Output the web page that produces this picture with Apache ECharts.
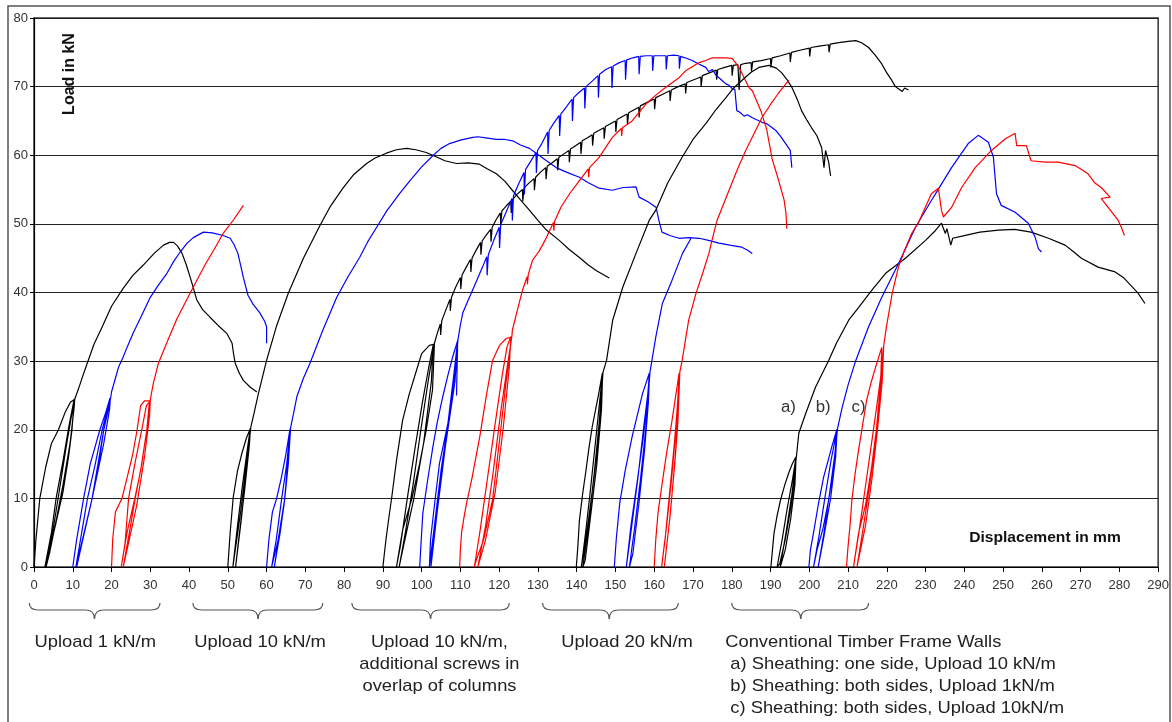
<!DOCTYPE html>
<html>
<head>
<meta charset="utf-8">
<script src="https://cdn.jsdelivr.net/npm/echarts@6/dist/echarts.min.js"></script>
<style>
html, body { margin: 0; padding: 0; background: #fff; }
#chart { width: 1172px; height: 722px; }
</style>
</head>
<body>
<div id="chart"></div>
<script>
// displacement (mm), load (kN)

// Upload 1 kN/m
const black1 = [[0,0],[0.5,4],[1.5,10],[3,14.5],[4.5,18],[6.3,20],[8,22.5],[9.4,24],[10.4,24.4],
  [10.3,24],[9.8,20],[8.9,16],[7.5,11],[5.5,6],[4,2.5],[2.8,0],
  [4.5,5],[5.7,10],[7.5,15.5],[9,20.5],[10.2,24],[10.5,24.5],
  [10.4,23.5],[9.3,18],[7.5,12],[5.8,7],[4,2],[3.1,0],
  [4.8,5],[6.5,11],[8.3,17.5],[9.8,22.5],[10.6,24.6],
  [11.5,26],[12.5,27.7],[13.8,29.8],[15.5,32.5],[17.6,35],[20,38],[23,40.6],[25.5,42.5],[28.2,44],
  [31,45.7],[33.4,46.9],[35,47.3],[36,47.3],[37,46.8],[38.2,45.7],[39.3,44],[40.3,42.2],[41.2,40.5],
  [42,38.9],[43.5,37.5],[45.4,36.4],[47.5,35.2],[49.8,34],[51.1,32.6],[51.5,31],[51.9,29.7],[53,28.2],
  [54,27.2],[55.8,26.2],[57.5,25.5]];
const blue1 = [[10,0],[11,4],[12.8,10],[14.5,15],[17,20],[18.5,22.5],[19.6,24.6],
  [19.4,23.5],[18,20],[16.5,15],[15,10],[12.5,4],[10.8,0],
  [12.3,5],[13.8,10],[15.8,15],[17.6,20],[19.7,24.6],
  [19.5,23],[18,18],[15,10],[12.2,3],[11,0],
  [13,5],[15,10],[16.7,15],[18,20],[19.8,24.7],
  [20,25.5],[21,27.5],[21.8,29.1],[23,30.6],[24,32],[25.5,34],[27.4,36.2],[30,39.3],[32,41],[34.3,42.8],
  [36,44.5],[37.7,45.9],[39.5,47.2],[41.1,48],[43.7,48.8],[46,48.7],[48.8,48.3],[50.6,47.9],[51.6,47],
  [52.6,45.7],[53.3,44],[54,42.2],[55.2,39.6],[56.5,38.3],[58.3,37],[59.5,35.8],[60,35],[60,32.6]];
const red1 = [[20,0],[20.3,4],[21,8],[22.7,10],[24,13],[25.5,16.5],[26.6,20],[27.5,23.5],[28.5,24.2],[29.8,24.2],
  [29.6,23],[29.1,20],[27.5,14],[26,10],[24,5],[22.5,0],
  [23.5,3.5],[24.4,10],[26,15],[27.8,20],[29,23.5],[30,24.2],
  [29.8,22],[28.5,16],[26.5,9],[24.2,3],[23,0],
  [24.6,5],[26.1,10],[27.8,15],[29.1,20],[30,24.3],
  [30.2,25],[30.8,26.8],[32.1,29.7],[34.5,33],[36.9,36.2],[39,38.5],[41.1,40.8],[44.1,44],[46.5,46.3],
  [48.8,48.6],[51.5,50.6],[54,52.7]];

// Upload 10 kN/m
const black2 = [[50,0],[50.6,5],[51.4,10.2],[52.5,14],[53.6,16.5],[54.8,18.8],[55.7,20],
  [55.6,19],[54.8,15],[53.3,8],[51.8,2],[51.3,0],
  [52.5,6],[53.8,12],[55,17],[55.8,20.2],
  [55.6,18],[54.3,11],[52.8,4],[52,0],
  [53.5,7],[55,15],[55.9,20.3],
  [56.8,22.5],[57.9,25.3],[60,30.1],[62.5,35],[65.6,39.9],[69.5,45],[73.8,49.8],[76.5,52.6],[79.7,55.2],
  [82.5,57.2],[85.8,58.8],[88,59.6],[90.9,60.3],[93.5,60.8],[96.1,61],[98.5,60.8],[101.2,60.4],[104,59.7],
  [106,59.2],[109,58.8],[112,58.9],[114.9,58.7],[117,58],[119.3,57.3],[121.5,56.2],[123.4,54.9],[125.5,53.5],
  [127.8,52],[130,50.5],[132.2,49.1],[135.5,47.6],[138,46.3],[140.7,45.1],[143,44],[145,43.2],[148.4,42.1]];
const blue2 = [[60,0],[60.6,4],[61.5,8],[62.6,10],[63.8,13],[65,16.5],[66,20],
  [65.8,18],[64.7,10],[63,4],[61.3,0],
  [62.5,4],[63.9,10],[65.2,15],[66.1,20.2],
  [65.8,17],[64.5,9],[62.8,3],[62,0],
  [63.5,5],[64.7,10],[65.6,15],[66.2,20.3],
  [67,22.5],[67.8,24.8],[69.5,27.5],[71.2,29.7],[74.5,34.5],[78.1,39.3],[81,42.3],[84,45.1],[86,47.3],
  [88.4,49.5],[91,51.9],[94.3,54.4],[97,56.3],[100,58.3],[103,60],[105,61],[107.2,61.7],[110,62.2],
  [113.2,62.6],[114.5,62.7],[117,62.5],[119.3,62.3],[121.5,62.3],[123.5,62.1],[125.5,61.5],[127.8,61],
  [130,60.1],[132.2,59.2],[134.7,58.2],[137.5,57.5],[140.7,56.8],[143,56],[145.8,55.2],[149.2,54.9],
  [152,55.3],[155.3,55.4],[156.1,53.9],[158.5,53.2],[160.5,52.4],[161.2,50.5],[162,48.8],[164,48.3],
  [166.4,47.9],[169,48],[171.6,47.9],[174,47.6],[176.7,47.2],[179.5,46.9],[182.6,46.6],[184,46.2],[185.3,45.7]];

// Upload 10 kN/m, additional screws in overlap of columns
const black3 = [[90,0],[90.8,4],[91.5,7],[92.3,10.2],[93.5,15.5],[95.1,21.4],[96.8,25.2],[98.7,28.7],[100,31.1],[102,32.3],[103.3,32.5],
  [102.8,25.8],[101.2,20],[99.5,15.1],[97.5,10],[95.1,5.4],[93.5,0],
  [94.5,3],[96.3,10],[98.2,17],[100.2,24],[101.8,29],[103,32.4],
  [102.5,27],[100.5,18],[98,10],[95.5,3.5],[94.2,0],
  [95.8,5],[97.8,12],[99.8,20],[101.8,27.5],[103.3,32.6],
  [104,34],[104.8,35.4],[104.9,33.8],[105.2,35.9],[106.2,37.4],[107.3,39],[107.4,37.3],[107.7,39.3],[108.8,40.8],
  [110,42.2],[110.1,40.5],[110.4,42.5],[111.5,43.7],[112.6,44.8],[112.7,43],[113,45],[114,46.1],[115.2,47.3],
  [115.3,45.5],[115.6,47.5],[116.7,48.4],[117.8,49.2],[117.9,47.4],[118.2,49.5],[119.2,50.6],[120.3,51.6],
  [120.4,49.8],[120.7,51.9],[121.8,52.6],[123,53.3],[123.1,51.6],[123.4,53.5],[124.6,54.3],[126,55],
  [126.1,53.3],[126.4,55.2],[127.6,55.9],[129,56.6],[129.1,54.9],[129.4,56.8],[130.6,57.5],[132,58.2],
  [132.1,56.5],[132.4,58.4],[133.7,58.9],[135,59.5],[135.1,57.8],[135.4,59.7],[136.7,60.2],[138,60.7],
  [138.1,59],[138.4,60.9],[139.7,61.4],[141,61.9],[141.1,60.2],[141.4,62.1],[142.7,62.5],[144,63],
  [144.1,61.4],[144.4,63.2],[145.7,63.6],[147,64],[147.1,62.4],[147.4,64.2],[148.7,64.6],[150,65],
  [150.1,63.4],[150.4,65.2],[151.7,65.6],[153,66],[153.1,64.5],[153.4,66.2],[154.7,66.6],[156,67],
  [156.1,65.5],[156.4,67.2],[158.2,67.7],[160,68.2],[160.1,66.7],[160.4,68.4],[162.2,68.9],[164,69.4],
  [164.1,67.9],[164.4,69.5],[166.2,70],[168,70.4],[168.1,69],[168.4,70.6],[170.2,71],[172,71.4],
  [172.1,70],[172.4,71.6],[174.2,72],[176,72.4],[176.1,71],[176.4,72.5],[178.2,72.8],[180,73.1],
  [180.1,71.6],[180.4,73.1],[181.6,73.2],[181.9,69.5],[182.3,73.2],[183.6,73.4],[185,73.5],[185.1,72.2],
  [185.4,73.6],[187.6,73.8],[190,74.1],[190.1,72.8],[190.4,74.2],[192.6,74.5],[195,74.9],[195.1,73.6],
  [195.4,75],[197.6,75.3],[200,75.6],[200.1,74.4],[200.4,75.7],[202.6,75.9],[205,76.1],[205.1,75],
  [205.4,76.2],[207.6,76.4],[210,76.6],[212,76.7],[213.5,76.4],[215.3,75.7],[217,74.6],[218.7,73.3],
  [220,72],[221.3,70.9],[222.2,70],[223,69.7],[224,69.3],[224.6,69.8],[225.6,69.5]];
const blue3 = [[99.5,0],[99.9,4],[100.3,7.8],[101.5,12.5],[102.9,17.5],[104,21],[105.4,24.7],[106.8,28],[108,30.6],[109.3,33],
  [109,25],[109.2,31],[109.3,33],
  [108.5,28],[106.8,21],[104.6,15.1],[103.3,9],[102.3,4],[102,0],
  [103.5,7],[105,14],[106.8,21],[108.3,28],[109.3,33],
  [108.6,27],[106.5,19],[104.4,11],[102.9,4],[102.4,0],
  [104,8],[106,17],[108,26],[109.4,33.2],
  [110,35.3],[110.6,37],[111.8,38.6],[113.1,40.3],[114.4,42],[115.7,43.7],[116.8,45.2],[116.9,42.5],
  [117.2,45.5],[118.6,47.6],[120,49.5],[120.1,46.5],[120.4,49.9],[122,52],[123.3,53.7],[123.4,50.5],
  [123.7,54.1],[125,55.8],[126.4,57.5],[126.5,54.3],[126.8,57.9],[128,59],[129.5,60.4],[129.6,57.4],
  [129.9,60.7],[131,61.7],[132.5,63.4],[132.6,60.2],[132.9,63.6],[134,64.6],[135.5,65.8],[135.6,62.8],
  [135.9,66],[137.3,67],[138.8,68.2],[138.9,65],[139.2,68.4],[140.5,69.1],[142,69.8],[142.1,66.8],
  [142.4,70],[144,70.8],[145.5,71.6],[145.6,68.4],[145.9,71.8],[147.5,72.5],[149,72.9],[149.1,69.8],
  [149.4,73],[151,73.5],[152.5,73.8],[152.6,71],[152.9,73.9],[154.5,74.2],[156,74.4],[156.1,71.8],
  [156.4,74.4],[158,74.5],[159.5,74.5],[159.6,72.3],[159.9,74.5],[161.5,74.5],[163,74.5],[163.1,72.5],
  [163.4,74.5],[165,74.6],[166.4,74.5],[166.5,72.6],[166.8,74.4],[168.5,74.1],[169.8,73.8],[171.5,73.3],
  [173.3,72.8],[174,72.2],[175,72.5],[176,71.6],[176.7,71.3],[177.5,70.9],[178.5,70.4],[179.3,70.2],
  [180.1,69.7],[180.8,69.6],[181.3,66.5],[182,66.3],[183.2,65.7],[184,65.9],[185.2,65.5],[186.3,65.2],
  [187.8,64.8],[189,64.6],[190,64.2],[191.4,63.6],[192.8,62.6],[193.9,61.7],[195.1,60.7],[195.5,58.2]];
const red3 = [[109.8,0],[110,2.5],[110.3,5],[111,7.5],[111.6,9.3],[113,13],[115,19],[116.7,25],[118.3,30.1],[120.1,32.3],[121.8,33.3],[123.2,33.5],
  [122.5,30],[121.8,27],[120,18],[118.3,9.8],[116,4],[114.1,1],[113.6,0],
  [115,5],[117,13],[119,21],[120.8,28],[122,32],[123,33.6],
  [122.6,29],[121,20],[119,11],[116.5,4],[114.5,0],
  [116.5,6],[118.5,14],[120.5,23],[122.3,30],[123.3,33.7],
  [123.4,34.5],[124.5,37],[126,40.3],[127.2,42.3],[127.3,41.2],[127.5,42.6],[128.6,44.7],[130.4,46.1],
  [132.2,48],[134,50.2],[134.1,49],[134.3,50.4],[136,52.5],[138.3,54.5],[140.7,56.3],[143,58],[143.1,56.8],
  [143.3,58.2],[145.8,59.7],[149.2,62.6],[151.5,63.9],[151.6,62.8],[151.8,64],[154.3,65],[157.9,67.5],
  [160.5,68.8],[163,69.9],[166.4,71.3],[168.1,72.3],[171.6,73.5],[173.3,73.8],[175,74.2],[178.5,74.2],
  [180.1,74.1],[181.9,72.8],[182.6,72],[184.4,69.9],[185.3,69.4],[187.5,66.5],[189,63.8],[190.4,59.5],
  [192,56.5],[193.5,53.5],[194,51.5],[194.2,49.3]];

// Upload 20 kN/m
const black4 = [[139.9,0],[140.3,3],[140.7,6.8],[141.5,10.5],[142.4,14.1],[143.2,17.5],[144,20.4],[145,23.3],[145.7,25.3],[146.6,28.2],
  [146.3,24],[145.5,18],[144,11],[142.5,4.5],[141.2,0],
  [142.3,5],[143.5,11],[144.8,18],[145.9,24],[146.7,28.3],
  [146.4,23],[145.2,15],[143.5,7],[142.2,1],[141.6,0],
  [143,6],[144.6,14],[145.8,21],[146.8,28.4],
  [147.7,30.1],[149.3,36],[151.9,40.8],[155.3,45.7],[158.7,50.5],[160.4,52],[163.5,56],[167.2,59.7],
  [170,62.3],[173.3,64.6],[176,66.7],[178.5,68.4],[180.5,69.8],[182.6,70.9],[185,72.1],[187,72.8],
  [189.6,73.1],[191.5,72.7],[192.9,72],[194.3,71],[195.5,69.9],[197,68],[198,66.5],[199.5,65],
  [200.6,64],[202,62.8],[203.2,61.1],[203.8,58.2],[204.2,60.7],[204.6,60.9],[205,59],[205.5,57]];
const blue4 = [[149.7,0],[150.2,4],[151.1,9.3],[152.5,14],[154.3,19],[155.8,22.5],[157,25.3],[158.7,28.2],
  [158.4,25],[157.2,19],[155.5,12],[154,6],[152.8,0],
  [154.2,6],[155.8,13],[157.2,20],[158.3,25],[158.8,28.3],
  [158.5,24],[157.5,17],[156,9],[154.5,2],[153.6,0],
  [155,6],[156.5,13],[157.8,20],[158.9,28.4],
  [160.4,33.5],[162.1,38.4],[164.6,41.8],[167.3,45.7],[169.5,47.9]];
const red4 = [[160,0],[160.4,4],[161,8],[162,12],[163.3,17],[164.5,21],[165.5,24.8],[166.4,28.2],
  [166.2,25],[165.2,18],[164,11],[162.8,4],[161.9,0],
  [163.2,6],[164.5,13],[165.6,20],[166.5,28.3],
  [166.3,24],[165.4,16],[164.2,8],[162.6,0],
  [164,7],[165.3,15],[166.1,21],[166.6,28.4],
  [167.2,30.1],[168.9,36],[170.8,39.9],[172.5,42.8],[174.1,45.7],[174.9,47.6],[176.2,50.5],[179.3,54.9],
  [181.5,58],[183.6,60.7],[185.8,63.2],[187.8,65.5],[190,67.4],[192,69],[194.7,70.9]];

// Conventional timber frame walls a), b), c)
const black5 = [[190.1,0],[190.5,2.5],[190.9,4.9],[191.7,7.5],[192.6,9.8],[193.7,12],[194.7,13.7],[195.6,15],[196.5,16],
  [196.2,13],[195.2,8.5],[193.8,4],[192.4,0.5],[191.7,0],
  [193,4],[194.3,8.5],[195.6,12.5],[196.6,16.1],
  [196.3,12],[195.2,7],[193.8,2.5],[192.5,0],
  [194,5],[195.5,10.5],[196.7,16.2],
  [197.3,19.5],[199.1,22.4],[201.6,26.2],[205,30.1],[207,32.6],[210.2,36],[212.7,37.8],[216.1,40.3],
  [219.7,42.8],[224.8,45],[230,47.6],[232.5,49],[234.1,50.1],[234.6,50.3],[235.1,48.6],[235.5,49.3],
  [236.5,46.9],[237,47.9],[240,48.3],[244,48.8],[248.8,49.1],[253,49.2],[257.2,48.8],[261.7,47.9],
  [266,46.9],[268,46],[270.2,45],[274.5,43.7],[278.9,43],[281,42.2],[283,41],[284.8,39.9],[286.6,38.4]];
const blue5 = [[199.9,0],[200.3,2.5],[201.1,5],[202.3,9],[203.7,13.1],[205,15.8],[205.8,17.5],[207.1,20],
  [206.7,17],[205.8,12.5],[205,9.8],[203.5,5.5],[202,2.5],[201.1,0],
  [202.5,4.5],[204,10],[205.6,15.5],[207.2,20.1],
  [206.8,16],[205.5,10],[203.8,4.5],[202.3,0],
  [203.8,5],[205.3,11],[206.5,16],[207.3,20.2],
  [208.5,23.3],[210,26.5],[212,30.1],[215.3,35],[218.7,39.3],[223,44.2],[227.4,49.5],[231.5,53.4],
  [232.6,54.4],[236.7,58.2],[241,61.7],[243.6,62.9],[246.2,61.9],[247.5,59.7],[247.9,57],[248.3,54.4],
  [249.5,52.7],[253.1,51.7],[256.5,50.1],[258.3,48],[259.1,46.4],[259.9,45.9]];
const red5 = [[209.6,0],[210,3],[210.5,6],[211,9.8],[211.8,13.5],[212.7,17],[213.7,20.5],[214.8,24.3],[216,27],[217.1,29.1],[218.7,32],
  [218.4,26.8],[217.3,20],[216.1,14.6],[214.5,9],[212.7,4.9],[211.4,0],
  [212.8,5],[214.3,11],[215.8,17],[217.3,23],[218.5,28],[219.2,32.2],
  [218.8,27],[217.6,20],[216.2,13],[214.5,6],[212.3,0],
  [214,6],[215.6,12],[217,18],[218.3,25],[219.2,32.3],
  [219.9,35],[221.4,39.9],[223,43.7],[224.5,46],[226.4,48.6],[228.1,50.1],[231.5,54.4],[233.3,55.2],
  [234.1,52],[234.6,51],[236.7,52.4],[239.3,55.3],[242.8,58.2],[247,60.7],[250.6,62.4],[253.1,63.2],
  [253.5,61.4],[256,61.4],[257.2,59.2],[260.9,59],[264.2,59],[268.6,58.5],[271.9,57.3],[273.6,56],
  [275.3,55.3],[277.6,53.9],[275.3,53.7],[277.1,52.4],[279.7,50.5],[280.5,49.5],[281.3,48.3]];

// braces under the x axis: start, end, tip (mm)
const braceRanges = [[-1.2, 32.5, 15.6], [41, 74.5, 57.8], [82, 122.6, 102.3], [131.2, 166.2, 148.4], [180, 215.3, 197.8]];

// group captions: x position (mm), alignment, lines
const captions = [
  { x: 15.8, align: 'center', lines: ['Upload 1 kN/m'] },
  { x: 58.3, align: 'center', lines: ['Upload 10 kN/m'] },
  { x: 104.6, align: 'center', lines: ['Upload 10 kN/m,', 'additional screws in', 'overlap of columns'] },
  { x: 153, align: 'center', lines: ['Upload 20 kN/m'] },
  { x: 178.3, align: 'left', lines: ['Conventional Timber Frame Walls', ' a) Sheathing: one side, Upload 10 kN/m',
      ' b) Sheathing: both sides, Upload 1kN/m', ' c) Sheathing: both sides, Upload 10kN/m'] }
];

// curve tags a) b) c) inside the plot
const curveTags = [['a)', 194.6, 23.2], ['b)', 203.6, 23.2], ['c)', 212.7, 23.2]];

const curves = [
  [black1, '#000000'], [blue1, '#0000ff'], [red1, '#ff0000'],
  [black2, '#000000'], [blue2, '#0000ff'],
  [black3, '#000000'], [blue3, '#0000ff'], [red3, '#ff0000'],
  [black4, '#000000'], [blue4, '#0000ff'], [red4, '#ff0000'],
  [black5, '#000000'], [blue5, '#0000ff'], [red5, '#ff0000']
];

const FONT = '"Liberation Sans", Arial, sans-serif';
const chart = echarts.init(document.getElementById('chart'));

chart.setOption({
  animation: false,
  backgroundColor: '#fff',
  grid: { left: 34, right: 12, top: 18, bottom: 155, show: true, borderColor: '#333', borderWidth: 1.5 },
  xAxis: {
    type: 'value', min: 0, max: 290, interval: 10,
    axisLine: { lineStyle: { color: '#000', width: 1.2 } },
    axisTick: { show: true, length: 5, lineStyle: { color: '#000' } },
    axisLabel: { margin: 12, fontSize: 13, color: '#333', fontFamily: FONT },
    splitLine: { show: false }
  },
  yAxis: {
    type: 'value', min: 0, max: 80, interval: 10,
    axisLine: { show: true, lineStyle: { color: '#000', width: 1.2 } },
    axisTick: { show: true, length: 4, lineStyle: { color: '#000' } },
    axisLabel: { margin: 6, fontSize: 13, color: '#333', fontFamily: FONT },
    splitLine: { show: true, lineStyle: { color: '#222', width: 1 } }
  },
  series: curves.map(function (c) {
    return {
      type: 'line',
      data: c[0],
      showSymbol: false,
      symbol: 'none',
      silent: true,
      lineStyle: { color: c[1], width: 1.2 }
    };
  })
});

// annotations placed through the axis scales
const graphics = [];
graphics.push({
  type: 'rect', shape: { x: 8, y: 6, width: 1162, height: 740 },
  style: { fill: null, stroke: '#555', lineWidth: 1.5 }, silent: true
});
graphics.push({
  type: 'text', x: 70, y: 74, rotation: Math.PI / 2,
  style: { text: 'Load in kN', font: 'bold 16px ' + FONT, fill: '#111', textAlign: 'center', textVerticalAlign: 'middle' }
});
graphics.push({
  type: 'text', x: 1045, y: 538, scaleX: 1.04,
  style: { text: 'Displacement in mm', font: 'bold 15px ' + FONT, fill: '#111', textAlign: 'center', textVerticalAlign: 'middle' }
});

curveTags.forEach(function (t) {
  const p = chart.convertToPixel({ gridIndex: 0 }, [t[1], t[2]]);
  graphics.push({
    type: 'text', x: p[0], y: p[1], scaleX: 1.05,
    style: { text: t[0], font: '16px ' + FONT, fill: '#333', textAlign: 'center', textVerticalAlign: 'middle' }
  });
});

// each brace: two curled ends, two straight runs, a pointed middle
const yTop = 603, yMid = 610, yTip = 619;
const braceStyle = { fill: null, stroke: '#555', lineWidth: 1.2 };
function curve(x1, y1, cx, cy, x2, y2) {
  graphics.push({ type: 'bezierCurve', silent: true, style: braceStyle,
    shape: { x1: x1, y1: y1, cpx1: cx, cpy1: cy, x2: x2, y2: y2 } });
}
function straight(x1, y1, x2, y2) {
  graphics.push({ type: 'line', silent: true, style: braceStyle,
    shape: { x1: x1, y1: y1, x2: x2, y2: y2 } });
}
braceRanges.forEach(function (b) {
  const x1 = chart.convertToPixel({ xAxisIndex: 0 }, b[0]);
  const x2 = chart.convertToPixel({ xAxisIndex: 0 }, b[1]);
  const xm = chart.convertToPixel({ xAxisIndex: 0 }, b[2]);
  curve(x1, yTop, x1, yMid, x1 + 9, yMid);
  straight(x1 + 9, yMid, xm - 9, yMid);
  curve(xm - 9, yMid, xm, yMid, xm, yTip);
  curve(xm, yTip, xm, yMid, xm + 9, yMid);
  straight(xm + 9, yMid, x2 - 9, yMid);
  curve(x2 - 9, yMid, x2, yMid, x2, yTop);
});

captions.forEach(function (c) {
  const x = chart.convertToPixel({ xAxisIndex: 0 }, c.x);
  c.lines.forEach(function (line, i) {
    graphics.push({
      type: 'text', x: x, y: 642 + i * 22.2, scaleX: 1.08,
      style: { text: line, font: '17px ' + FONT, fill: '#222', textAlign: c.align, textVerticalAlign: 'middle' }
    });
  });
});

chart.setOption({ graphic: graphics });
</script>
</body>
</html>
